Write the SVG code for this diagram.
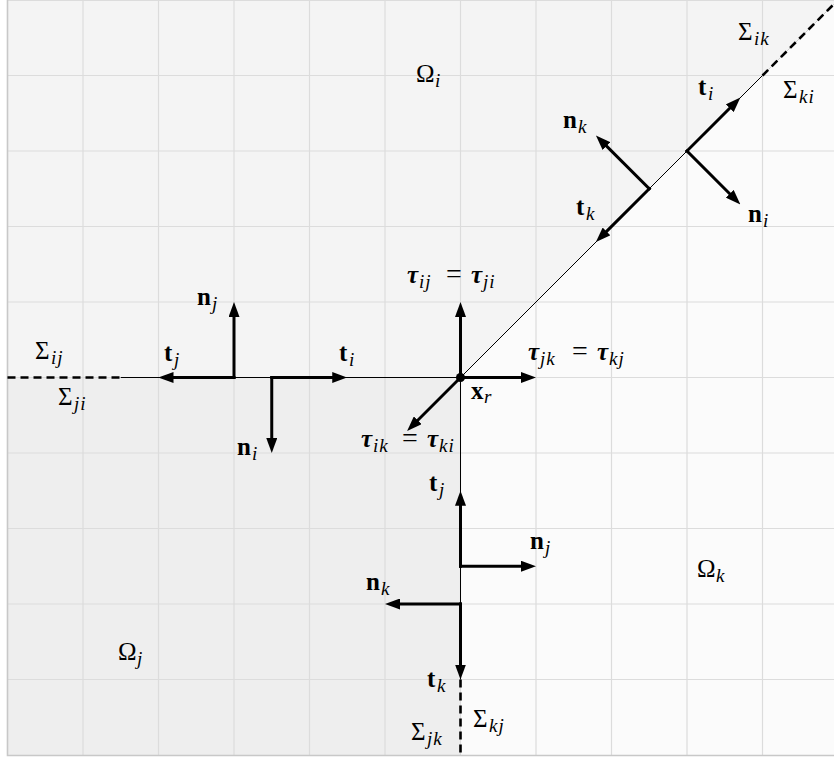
<svg xmlns="http://www.w3.org/2000/svg" width="834" height="760" viewBox="0 0 834 760">
<style>
.lbl{font-size:25px;fill:#000}
.b{font-weight:bold}
.bi{font-weight:bold;font-style:italic}
.s{font-size:19px;font-style:italic;font-weight:normal;letter-spacing:1px}
.eq{font-size:28px;font-weight:normal;font-style:normal}
.grid line{stroke:#dcdcdc;stroke-width:1.2}
.iface{stroke:#000;stroke-width:1;fill:none}
.dash{stroke:#000;stroke-width:2.6;stroke-dasharray:8 5;fill:none}
.arr{stroke:#000;stroke-width:3;stroke-linecap:square;fill:none;marker-end:url(#ah)}
</style>
<defs>
<marker id="ah" markerUnits="userSpaceOnUse" markerWidth="15" markerHeight="11" refX="3" refY="5.5" orient="auto">
<path d="M0,0 L15,5.5 L0,11 z" fill="#000"/>
</marker>
</defs>
<rect width="834" height="760" fill="#fff"/>
<g id="regions">
<polygon id="omega-i-fill" points="7.5,0 838,0 460.5,377.5 7.5,377.5" fill="#f4f4f4"/>
<rect id="omega-j-fill" x="7.5" y="377.5" width="453" height="377.5" fill="#eeeeee"/>
<polygon id="omega-k-fill" points="838,0 838,755 460.5,755 460.5,377.5" fill="#fbfbfb"/>
</g>
<g class="grid" id="grid">
<line x1="83" y1="0" x2="83" y2="755"/>
<line x1="158.5" y1="0" x2="158.5" y2="755"/>
<line x1="234" y1="0" x2="234" y2="755"/>
<line x1="309.5" y1="0" x2="309.5" y2="755"/>
<line x1="385" y1="0" x2="385" y2="755"/>
<line x1="460.5" y1="0" x2="460.5" y2="755"/>
<line x1="536" y1="0" x2="536" y2="755"/>
<line x1="611.5" y1="0" x2="611.5" y2="755"/>
<line x1="687" y1="0" x2="687" y2="755"/>
<line x1="762.5" y1="0" x2="762.5" y2="755"/>
<line x1="7.5" y1="0.5" x2="834" y2="0.5"/>
<line x1="7.5" y1="75.5" x2="834" y2="75.5"/>
<line x1="7.5" y1="151" x2="834" y2="151"/>
<line x1="7.5" y1="226.5" x2="834" y2="226.5"/>
<line x1="7.5" y1="302" x2="834" y2="302"/>
<line x1="7.5" y1="377.5" x2="834" y2="377.5"/>
<line x1="7.5" y1="453" x2="834" y2="453"/>
<line x1="7.5" y1="528.5" x2="834" y2="528.5"/>
<line x1="7.5" y1="604" x2="834" y2="604"/>
<line x1="7.5" y1="679.5" x2="834" y2="679.5"/>
</g>
<g id="border" stroke="#c8c8c8" stroke-width="1.6" fill="none">
<polyline points="7.5,0 7.5,755.5 834,755.5"/>
</g>
<g id="interfaces">
<line x1="460.5" y1="377.5" x2="838" y2="0" stroke="#d0d0d0" stroke-width="1"/>
<line class="iface" x1="120.75" y1="377.5" x2="460.5" y2="377.5"/>
<line class="iface" x1="460.5" y1="377.5" x2="460.5" y2="679.5"/>
<line class="iface" x1="460.5" y1="377.5" x2="762.5" y2="75.5"/>
<line class="dash" x1="7.5" y1="377.5" x2="120.75" y2="377.5"/>
<line class="dash" x1="460.5" y1="679.5" x2="460.5" y2="755"/>
<line class="dash" x1="762.5" y1="75.5" x2="838" y2="0"/>
</g>
<g id="connectors">
<line class="arr" x1="234" y1="377.5" x2="170.5" y2="377.5"/>
<line class="arr" x1="234" y1="377.5" x2="234" y2="314"/>
<line class="arr" x1="271.75" y1="377.5" x2="271.75" y2="441"/>
<line class="arr" x1="271.75" y1="377.5" x2="335.25" y2="377.5"/>
<line class="arr" x1="460.5" y1="377.5" x2="460.5" y2="314"/>
<line class="arr" x1="460.5" y1="377.5" x2="524" y2="377.5"/>
<line class="arr" x1="460.5" y1="377.5" x2="415.6" y2="422.4"/>
<line class="arr" x1="687" y1="151" x2="731.9" y2="106.1"/>
<line class="arr" x1="687" y1="151" x2="731.9" y2="195.9"/>
<line class="arr" x1="649.25" y1="188.75" x2="604.4" y2="233.6"/>
<line class="arr" x1="649.25" y1="188.75" x2="604.4" y2="143.9"/>
<line class="arr" x1="460.5" y1="566.25" x2="460.5" y2="502.75"/>
<line class="arr" x1="460.5" y1="566.25" x2="524" y2="566.25"/>
<line class="arr" x1="460.5" y1="604" x2="397" y2="604"/>
<line class="arr" x1="460.5" y1="604" x2="460.5" y2="667.5"/>
</g>
<g id="labels" font-family="Liberation Serif, DejaVu Serif, serif">
<g id="node-xr">
<circle cx="460.5" cy="377.5" r="4.5" fill="#000"/>
<text class="lbl b" x="471" y="399">x<tspan class="s" x="484" y="403">r</tspan></text>
</g>
<g id="labels-regions">
<text id="omega-i" class="lbl" x="416" y="82">Ω<tspan class="s" x="435" y="87">i</tspan></text>
<text id="omega-k" class="lbl" x="697" y="577">Ω<tspan class="s" x="716" y="582">k</tspan></text>
<text id="omega-j" class="lbl" x="118" y="660">Ω<tspan class="s" x="137" y="665">j</tspan></text>
</g>
<g id="labels-sigma">
<text class="lbl" x="35" y="359">Σ<tspan class="s" x="51" y="364">ij</tspan></text>
<text class="lbl" x="58" y="405">Σ<tspan class="s" x="74" y="410">ji</tspan></text>
<text class="lbl" x="738" y="40">Σ<tspan class="s" x="754" y="45">ik</tspan></text>
<text class="lbl" x="783" y="98">Σ<tspan class="s" x="799" y="103">ki</tspan></text>
<text class="lbl" x="473" y="727">Σ<tspan class="s" x="489" y="732">kj</tspan></text>
<text class="lbl" x="411" y="740">Σ<tspan class="s" x="427" y="745">jk</tspan></text>
</g>
<g id="labels-vectors">
<text class="lbl b" x="164" y="361">t<tspan class="s" x="174" y="366">j</tspan></text>
<text class="lbl b" x="197" y="305">n<tspan class="s" x="212" y="310">j</tspan></text>
<text class="lbl b" x="237" y="455">n<tspan class="s" x="252" y="460">i</tspan></text>
<text class="lbl b" x="339" y="361">t<tspan class="s" x="349" y="366">i</tspan></text>
<text class="lbl b" x="698" y="95">t<tspan class="s" x="708" y="100">i</tspan></text>
<text class="lbl b" x="563" y="128">n<tspan class="s" x="578" y="133">k</tspan></text>
<text class="lbl b" x="576" y="215">t<tspan class="s" x="586" y="220">k</tspan></text>
<text class="lbl b" x="748" y="222">n<tspan class="s" x="763" y="227">i</tspan></text>
<text class="lbl b" x="429" y="491">t<tspan class="s" x="439" y="496">j</tspan></text>
<text class="lbl b" x="530" y="549">n<tspan class="s" x="545" y="554">j</tspan></text>
<text class="lbl b" x="366" y="590">n<tspan class="s" x="381" y="595">k</tspan></text>
<text class="lbl b" x="427" y="687">t<tspan class="s" x="437" y="692">k</tspan></text>
</g>
<g id="labels-tau">
<text class="lbl" y="283"><tspan class="bi" x="407">τ</tspan><tspan class="s" x="419" y="288">ij</tspan><tspan class="eq" x="446" y="283">=</tspan><tspan class="bi" x="471" y="283">τ</tspan><tspan class="s" x="483" y="288">ji</tspan></text>
<text class="lbl" y="360"><tspan class="bi" x="528">τ</tspan><tspan class="s" x="540" y="365">jk</tspan><tspan class="eq" x="572" y="360">=</tspan><tspan class="bi" x="597" y="360">τ</tspan><tspan class="s" x="609" y="365">kj</tspan></text>
<text class="lbl" y="447"><tspan class="bi" x="361">τ</tspan><tspan class="s" x="373" y="452">ik</tspan><tspan class="eq" x="402" y="447">=</tspan><tspan class="bi" x="427" y="447">τ</tspan><tspan class="s" x="439" y="452">ki</tspan></text>
</g>
</g>
</svg>
